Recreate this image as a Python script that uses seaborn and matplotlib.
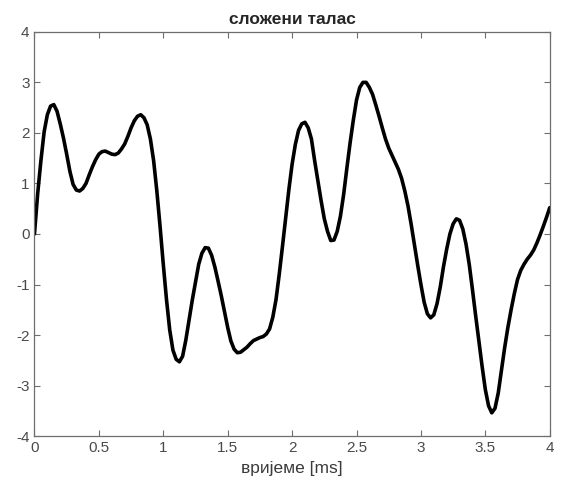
import pandas as pd
import matplotlib
matplotlib.use("Agg")
import matplotlib.pyplot as plt
import seaborn as sns

# time axis [ms] and signal values
time_ms = [
    0.000, 0.025, 0.050, 0.075, 0.100, 0.125, 0.150, 0.175, 0.200, 0.225,
    0.250, 0.275, 0.300, 0.325, 0.350, 0.375, 0.400, 0.425, 0.450, 0.475,
    0.500, 0.525, 0.550, 0.575, 0.600, 0.625, 0.650, 0.675, 0.700, 0.725,
    0.750, 0.775, 0.800, 0.825, 0.850, 0.875, 0.900, 0.925, 0.950, 0.975,
    1.000, 1.025, 1.050, 1.075, 1.100, 1.125, 1.150, 1.175, 1.200, 1.225,
    1.250, 1.275, 1.300, 1.325, 1.350, 1.375, 1.400, 1.425, 1.450, 1.475,
    1.500, 1.525, 1.550, 1.575, 1.600, 1.625, 1.650, 1.675, 1.700, 1.725,
    1.750, 1.775, 1.800, 1.825, 1.850, 1.875, 1.900, 1.925, 1.950, 1.975,
    2.000, 2.025, 2.050, 2.075, 2.100, 2.125, 2.150, 2.175, 2.200, 2.225,
    2.250, 2.275, 2.300, 2.325, 2.350, 2.375, 2.400, 2.425, 2.450, 2.475,
    2.500, 2.525, 2.550, 2.575, 2.600, 2.625, 2.650, 2.675, 2.700, 2.725,
    2.750, 2.775, 2.800, 2.825, 2.850, 2.875, 2.900, 2.925, 2.950, 2.975,
    3.000, 3.025, 3.050, 3.075, 3.100, 3.125, 3.150, 3.175, 3.200, 3.225,
    3.250, 3.275, 3.300, 3.325, 3.350, 3.375, 3.400, 3.425, 3.450, 3.475,
    3.500, 3.525, 3.550, 3.575, 3.600, 3.625, 3.650, 3.675, 3.700, 3.725,
    3.750, 3.775, 3.800, 3.825, 3.850, 3.875, 3.900, 3.925, 3.950, 3.975,
    4.000]
signal = [
    0.00, 0.80, 1.45, 2.02, 2.36, 2.53, 2.56, 2.43, 2.18, 1.90,
    1.58, 1.24, 0.98, 0.87, 0.85, 0.90, 1.00, 1.17, 1.33, 1.47,
    1.58, 1.63, 1.64, 1.61, 1.58, 1.57, 1.60, 1.68, 1.78, 1.93,
    2.10, 2.24, 2.33, 2.36, 2.30, 2.16, 1.88, 1.45, 0.85, 0.15,
    -0.60, -1.30, -1.90, -2.30, -2.48, -2.53, -2.42, -2.10, -1.70, -1.31,
    -0.95, -0.60, -0.38, -0.27, -0.28, -0.42, -0.65, -0.93, -1.22, -1.54,
    -1.85, -2.12, -2.28, -2.35, -2.34, -2.29, -2.24, -2.17, -2.11, -2.08,
    -2.05, -2.03, -1.98, -1.88, -1.65, -1.30, -0.80, -0.25, 0.32, 0.88,
    1.38, 1.77, 2.05, 2.18, 2.21, 2.10, 1.88, 1.45, 1.05, 0.66,
    0.30, 0.05, -0.13, -0.12, 0.05, 0.35, 0.78, 1.30, 1.80, 2.25,
    2.65, 2.90, 3.00, 3.00, 2.90, 2.76, 2.55, 2.33, 2.10, 1.88,
    1.70, 1.56, 1.42, 1.28, 1.10, 0.85, 0.55, 0.18, -0.22, -0.62,
    -1.00, -1.35, -1.58, -1.66, -1.60, -1.38, -1.05, -0.65, -0.30, 0.00,
    0.20, 0.30, 0.27, 0.10, -0.20, -0.60, -1.10, -1.62, -2.12, -2.62,
    -3.08, -3.40, -3.54, -3.45, -3.15, -2.70, -2.25, -1.85, -1.50, -1.18,
    -0.90, -0.72, -0.60, -0.50, -0.42, -0.32, -0.18, -0.02, 0.15, 0.33,
    0.52]

x_ticks = [0, 0.5, 1, 1.5, 2, 2.5, 3, 3.5, 4]
x_tick_labels = ["0", "0.5", "1", "1.5", "2", "2.5", "3", "3.5", "4"]
y_ticks = [-4, -3, -2, -1, 0, 1, 2, 3, 4]

df = pd.DataFrame({"t": time_ms, "y": signal})

sns.set_style("white")
plt.rcParams["font.family"] = ["Liberation Sans", "DejaVu Sans"]
plt.rcParams["axes.unicode_minus"] = False

fig = plt.figure(figsize=(5.65, 4.9), dpi=100)
ax = fig.add_axes([0.061, 0.110, 0.912, 0.825])

sns.lineplot(data=df, x="t", y="y", color="black", linewidth=2.6, ax=ax)

ax.set_xlim(0, 4)
ax.set_ylim(-4, 4)
ax.set_xticks(x_ticks)
ax.set_xticklabels(x_tick_labels)
ax.set_yticks(y_ticks)

axis_col = "#6e6e6e"
for s in ax.spines.values():
    s.set_visible(True)
    s.set_color(axis_col)
    s.set_linewidth(0.9)
ax.tick_params(direction="in", length=4, width=0.8, color=axis_col,
               labelcolor="#4a4a4a", labelsize=11,
               top=True, right=True, bottom=True, left=True,
               labeltop=False, labelright=False)

ax.set_title("сложени талас", fontsize=12.5, fontweight="bold", pad=6)
ax.set_xlabel("вријеме [ms]", fontsize=12.5, color="#3a3a3a", labelpad=4)
ax.set_ylabel("")

fig.savefig("out.png", dpi=100)
